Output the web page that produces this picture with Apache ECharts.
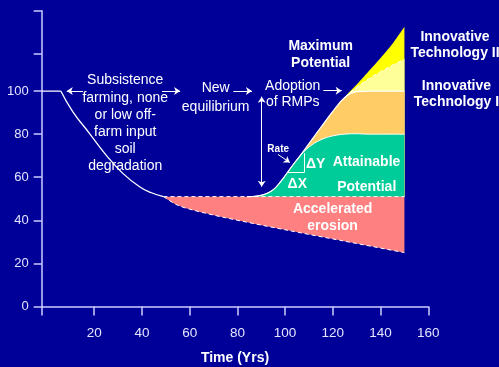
<!DOCTYPE html>
<html>
<head>
<meta charset="utf-8">
<script src="https://cdn.jsdelivr.net/npm/echarts@6/dist/echarts.min.js"></script>
<style>
  html, body { margin: 0; padding: 0; background: #000099; }
  #chart { width: 499px; height: 367px; }
</style>
</head>
<body>
<div id="chart"></div>
<script>
// Axis ticks and labels
const xTickValues = [-2, 20, 40, 60, 80, 100, 120, 140, 160];
const xLabelValues = [20, 40, 60, 80, 100, 120, 140, 160];
const yTickValues = [0, 20, 40, 60, 80, 100, 117.5, 137.3];
const yLabelValues = [0, 20, 40, 60, 80, 100];

// Undisturbed level before cultivation
const initialYears = [-2, 6];
const initialLevel = [100, 100];

// Decline under subsistence farming
const degradationYears = [6, 11, 18, 25, 32, 39, 44, 49];
const degradationLevel = [100, 90.5, 80.4, 70.3, 61.8, 55.6, 52.8, 51];

// New equilibrium level
const equilibriumYears = [49, 150];
const equilibriumLevel = [51, 51];

// Further loss with accelerated erosion
const erosionYears = [49, 55, 62, 75, 100, 125, 150];
const erosionLevel = [51, 47, 44.6, 41.2, 35.6, 30.3, 25];

// Recovery after adoption of RMPs
const recoveryYears = [84, 89, 93, 96, 99, 102, 106, 110, 115, 120, 125, 130, 135, 140, 145, 150];
const maximumPotential = [51, 51.4, 52.8, 55.2, 59.2, 63.8, 69.6, 75.6, 83.2, 90.6, 97.2, 103, 109.2, 115.4, 122, 129.8];
const technologyII = [51, 51.4, 52.8, 55.2, 59.2, 63.8, 69.6, 75.6, 83.2, 90.6, 97.2, 101.8, 105.6, 109, 112, 114.8];
const technologyI = [51, 51.4, 52.8, 55.2, 59.2, 63.8, 69.6, 75.6, 83.2, 90.6, 97.0, 99.7, 100, 100, 100, 100];
const attainable = [51, 51.4, 52.8, 55.2, 59.2, 63.8, 69.6, 74.0, 77.4, 79.2, 80, 80.2, 80, 80, 80, 80];

// Text annotations, placed in data coordinates
const annotations = [
  { text: 'Subsistence\nfarming, none\nor low off-\nfarm input\nsoil\ndegradation', at: [33.0, 85.0], bold: false, size: 14, lh: 17.1 },
  { text: 'New\nequilibrium', at: [70.9, 97.0], bold: false, size: 14, lh: 18.4 },
  { text: 'Adoption\nof RMPs', at: [103.2, 98.8], bold: false, size: 14, lh: 16 },
  { text: 'Rate', at: [97.1, 73.1], bold: true, size: 10, lh: 12 },
  { text: '\u0394Y', at: [112.8, 65.9], bold: true, size: 14, lh: 16 },
  { text: '\u0394X', at: [105.1, 56.9], bold: true, size: 14, lh: 16 },
  { text: 'Attainable', at: [134.1, 67.2], bold: true, size: 14, lh: 16 },
  { text: 'Potential', at: [134.2, 55.3], bold: true, size: 14, lh: 16 },
  { text: 'Maximum\nPotential', at: [114.9, 116.9], bold: true, size: 14, lh: 17.3 },
  { text: 'Innovative\nTechnology II', at: [171.2, 121.4], bold: true, size: 14, lh: 16.6 },
  { text: 'Innovative\nTechnology I', at: [171.8, 98.8], bold: true, size: 14, lh: 16 },
  { text: 'Accelerated\nerosion', at: [119.9, 41.2], bold: true, size: 14, lh: 16.7 }
];

// Arrows and guide lines: [from, to, head at start, head at end]
const arrows = [
  [[15.3, 100], [8.5, 100], false, true],
  [[48.4, 100], [56.0, 100], false, true],
  [[78.3, 100], [86.1, 100], false, true],
  [[116.0, 100.2], [123.7, 100.2], false, true],
  [[90.2, 97.4], [90.2, 55.6], true, true],
  [[97.0, 70.6], [102.0, 66.8], false, true],
  [[100.8, 62.2], [108.0, 62.2], false, false],
  [[108.0, 62.2], [108.0, 71.1], false, false]
];

const FONT = 'Liberation Sans, Arial, Helvetica, sans-serif';
const zip = (xs, ys) => xs.map((x, i) => [x, ys[i]]);
const splitAt = recoveryYears.indexOf(125);

const chart = echarts.init(document.getElementById('chart'), null, { renderer: 'canvas' });

const areaSeries = (name, ys, color, line) => ({
  name,
  type: 'line',
  data: zip(recoveryYears, ys),
  smooth: 0.4,
  symbol: 'none',
  silent: true,
  lineStyle: line || { width: 0 },
  areaStyle: { color, opacity: 1, origin: 51 }
});

const option = {
  animation: false,
  backgroundColor: '#000099',
  grid: { left: 41.7, right: 70.7, top: 10.7, bottom: 60.5, containLabel: false, outerBoundsMode: 'none' },
  xAxis: {
    type: 'value',
    min: -2,
    max: 160,
    name: 'Time (Yrs)',
    nameLocation: 'middle',
    nameGap: 45,
    nameTextStyle: { color: '#ffffff', fontFamily: FONT, fontSize: 14, fontWeight: 'bold' },
    axisLine: { show: true, onZero: false, lineStyle: { color: '#ccccff', width: 1.5 } },
    axisTick: { show: true, length: 9, customValues: xTickValues, lineStyle: { color: '#ccccff', width: 1.5 } },
    axisLabel: { customValues: xLabelValues, margin: 20, color: '#e4e4ff', fontFamily: FONT, fontSize: 13.5 },
    splitLine: { show: false }
  },
  yAxis: {
    type: 'value',
    min: 0,
    max: 137.3,
    axisLine: { show: true, onZero: false, lineStyle: { color: '#ccccff', width: 1.5 } },
    axisTick: { show: true, length: 8, customValues: yTickValues, lineStyle: { color: '#ccccff', width: 1.5 } },
    axisLabel: { customValues: yLabelValues, margin: 13, color: '#e4e4ff', fontFamily: FONT, fontSize: 13 },
    splitLine: { show: false }
  },
  series: [
    areaSeries('Maximum potential', maximumPotential, '#FFFF00'),
    areaSeries('Innovative technology II', technologyII, '#FFFF99'),
    areaSeries('Innovative technology I', technologyI, '#FFCC66', { color: '#ffffff', width: 1.2 }),
    areaSeries('Attainable potential', attainable, '#00CC99', { color: '#ffffff', width: 1 }),
    {
      name: 'Technology II top',
      type: 'line',
      data: zip(recoveryYears.slice(splitAt), technologyII.slice(splitAt)),
      smooth: 0.4,
      symbol: 'none',
      silent: true,
      lineStyle: { color: '#ffffff', width: 1, type: [4, 3] }
    },
    {
      name: 'Accelerated erosion',
      type: 'line',
      data: zip(erosionYears, erosionLevel),
      smooth: 0.3,
      symbol: 'none',
      silent: true,
      lineStyle: { color: '#ffffff', width: 1, type: [4, 3] },
      areaStyle: { color: '#FF8080', opacity: 1, origin: 51 }
    },
    {
      name: 'Initial level',
      type: 'line',
      data: zip(initialYears, initialLevel),
      symbol: 'none',
      silent: true,
      lineStyle: { color: '#ffffff', width: 1.3 }
    },
    {
      name: 'Degradation',
      type: 'line',
      data: zip(degradationYears, degradationLevel),
      smooth: 0.5,
      symbol: 'none',
      silent: true,
      lineStyle: { color: '#ffffff', width: 1.3 }
    },
    {
      name: 'Equilibrium',
      type: 'line',
      data: zip(equilibriumYears, equilibriumLevel),
      symbol: 'none',
      silent: true,
      lineStyle: { color: '#ffffff', width: 1, type: [4, 3] },
      markLine: {
        silent: true,
        animation: false,
        symbolSize: 6,
        label: { show: false },
        emphasis: { disabled: true },
        lineStyle: { color: '#ffffff', width: 1, type: 'solid' },
        data: arrows.map(a => [
          { coord: a[0], symbol: a[2] ? 'arrow' : 'none' },
          { coord: a[1], symbol: a[3] ? 'arrow' : 'none' }
        ])
      }
    }
  ]
};

chart.setOption(option);

chart.setOption({
  graphic: annotations.map(a => {
    const p = chart.convertToPixel({ gridIndex: 0 }, a.at);
    return {
      type: 'text',
      x: p[0],
      y: p[1],
      silent: true,
      z: 100,
      style: {
        text: a.text,
        fill: '#ffffff',
        fontFamily: FONT,
        fontSize: a.size,
        fontWeight: a.bold ? 'bold' : 'normal',
        align: 'center',
        verticalAlign: 'middle',
        lineHeight: a.lh
      }
    };
  })
});
</script>
</body>
</html>
